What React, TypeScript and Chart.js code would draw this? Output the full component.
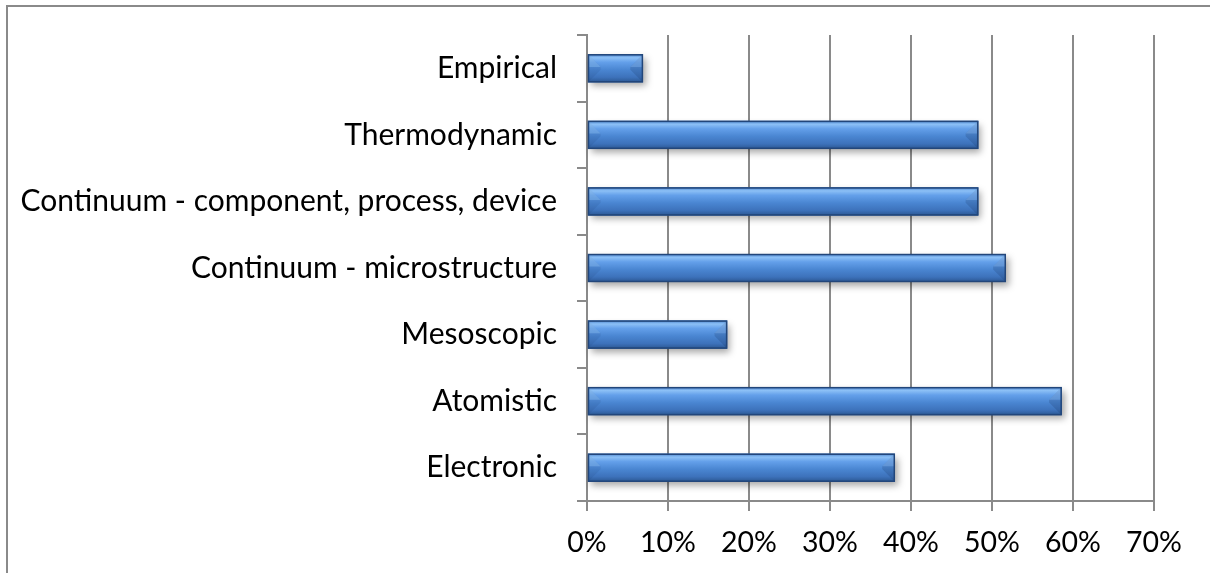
import React, { useEffect, useRef } from "react";
import { Chart, registerables } from "chart.js";

Chart.register(...registerables);

// Categories listed top to bottom as they appear in the chart
const categories: string[] = [
  "Empirical",
  "Thermodynamic",
  "Continuum - component, process, device",
  "Continuum - microstructure",
  "Mesoscopic",
  "Atomistic",
  "Electronic",
];
const shareValues: number[] = [6.9, 48.3, 48.3, 51.7, 17.3, 58.6, 38.0];
const xTickValues: number[] = [0, 10, 20, 30, 40, 50, 60, 70];

const FONT_FAMILY = "Lato, 'Open Sans', sans-serif";
const GRID = "#8a8a8a";

const barFx = {
  id: "barFx",
  afterDatasetsDraw(chart: any) {
    const ctx = chart.ctx as CanvasRenderingContext2D;
    const meta = chart.getDatasetMeta(0);
    ctx.save();
    meta.data.forEach((bar: any) => {
      const { x, y, base, height } = bar.getProps(["x", "y", "base", "height"], true);
      const top = y - height / 2;
      ctx.shadowColor = "rgba(0,0,0,0.35)";
      ctx.shadowBlur = 7;
      ctx.shadowOffsetX = 3;
      ctx.shadowOffsetY = 4;
      ctx.fillStyle = "#3d6eae";
      ctx.fillRect(base, top, x - base, height);
    });
    ctx.restore();
    meta.data.forEach((bar: any) => {
      const { x, y, base, height } = bar.getProps(["x", "y", "base", "height"], true);
      const x0 = base;
      const x1 = x;
      const y0 = y - height / 2;
      const y1 = y + height / 2;
      const b = Math.min(height * 0.45, (x1 - x0) / 2);
      ctx.save();
      const g = ctx.createLinearGradient(0, y0, 0, y1);
      g.addColorStop(0, "#4a82cc");
      g.addColorStop(0.12, "#8cc0f6");
      g.addColorStop(0.28, "#64a0ea");
      g.addColorStop(0.55, "#4a86d2");
      g.addColorStop(0.82, "#3d72bb");
      g.addColorStop(1, "#2b5792");
      ctx.fillStyle = g;
      ctx.fillRect(x0, y0, x1 - x0, height);
      // left bevel
      ctx.beginPath();
      ctx.moveTo(x0, y0);
      ctx.lineTo(x0 + b, y0 + b);
      ctx.lineTo(x0 + b, y1 - b);
      ctx.lineTo(x0, y1);
      ctx.closePath();
      ctx.fillStyle = "rgba(20,50,100,0.10)";
      ctx.fill();
      ctx.beginPath();
      ctx.moveTo(x0, y0);
      ctx.lineTo(x0 + b, y0 + b);
      ctx.lineTo(x0, y0 + b);
      ctx.closePath();
      ctx.fillStyle = "rgba(150,200,250,0.35)";
      ctx.fill();
      // right bevel
      ctx.beginPath();
      ctx.moveTo(x1, y0);
      ctx.lineTo(x1 - b, y0 + b);
      ctx.lineTo(x1 - b, y1 - b);
      ctx.lineTo(x1, y1);
      ctx.closePath();
      ctx.fillStyle = "rgba(10,30,70,0.16)";
      ctx.fill();
      ctx.beginPath();
      ctx.moveTo(x1, y0);
      ctx.lineTo(x1 - b, y0 + b);
      ctx.lineTo(x1, y0 + b);
      ctx.closePath();
      ctx.fillStyle = "rgba(140,190,245,0.35)";
      ctx.fill();
      // outline
      ctx.strokeStyle = "#22467a";
      ctx.lineWidth = 1.5;
      ctx.strokeRect(x0 + 0.5, y0 + 0.5, x1 - x0 - 1, height - 1);
      ctx.restore();
    });
  },
};

const frame = {
  id: "frame",
  afterDraw(chart: any) {
    const ctx = chart.ctx as CanvasRenderingContext2D;
    ctx.save();
    ctx.strokeStyle = "#8a8a8a";
    ctx.lineWidth = 2;
    ctx.beginPath();
    ctx.moveTo(7, chart.height);
    ctx.lineTo(7, 6);
    ctx.lineTo(chart.width, 6);
    ctx.stroke();
    ctx.restore();
  },
};

export default function App() {
  const ref = useRef<HTMLCanvasElement | null>(null);
  useEffect(() => {
    if (!ref.current) return;
    const chart = new Chart(ref.current, {
      type: "bar",
      data: {
        labels: categories,
        datasets: [
          {
            data: shareValues,
            backgroundColor: "rgba(0,0,0,0)",
            borderWidth: 0,
            barPercentage: 0.42,
            categoryPercentage: 1,
          },
        ],
      },
      options: {
        indexAxis: "y",
        animation: false,
        responsive: false,
        maintainAspectRatio: false,
        layout: { padding: { left: 0, right: 56, top: 35, bottom: 0 } },
        plugins: {
          legend: { display: false },
          tooltip: { enabled: false },
          title: { display: false },
        },
        scales: {
          x: {
            type: "linear",
            min: 0,
            max: 70,
            afterBuildTicks: (s: any) => {
              s.ticks = xTickValues.map((v) => ({ value: v }));
            },
            afterFit: (s: any) => {
              s.height = 72;
            },
            ticks: {
              callback: (v: any) => `${v}%`,
              color: "#000",
              font: { family: FONT_FAMILY, size: 28.5 },
              padding: 15,
              maxRotation: 0,
            },
            grid: { color: GRID, lineWidth: 2, tickLength: 10, drawTicks: true },
            border: { color: GRID, width: 2 },
          },
          y: {
            type: "category",
            offset: true,
            afterFit: (s: any) => {
              s.width = 587;
              s.paddingTop = 0;
              s.paddingBottom = 0;
            },
            ticks: {
              color: "#000",
              font: { family: FONT_FAMILY, size: 30 },
              padding: 20,
            },
            grid: {
              offset: true,
              drawOnChartArea: false,
              drawTicks: true,
              tickLength: 10,
              color: GRID,
              lineWidth: 2,
            },
            border: { color: GRID, width: 2 },
          },
        },
      },
      plugins: [barFx, frame],
    });
    return () => chart.destroy();
  }, []);
  return (
    <div style={{ position: "fixed", left: 0, top: 0, width: 1210, height: 573, background: "#fff" }}>
      <canvas ref={ref} width={1210} height={573} style={{ display: "block", width: 1210, height: 573 }} />
    </div>
  );
}
